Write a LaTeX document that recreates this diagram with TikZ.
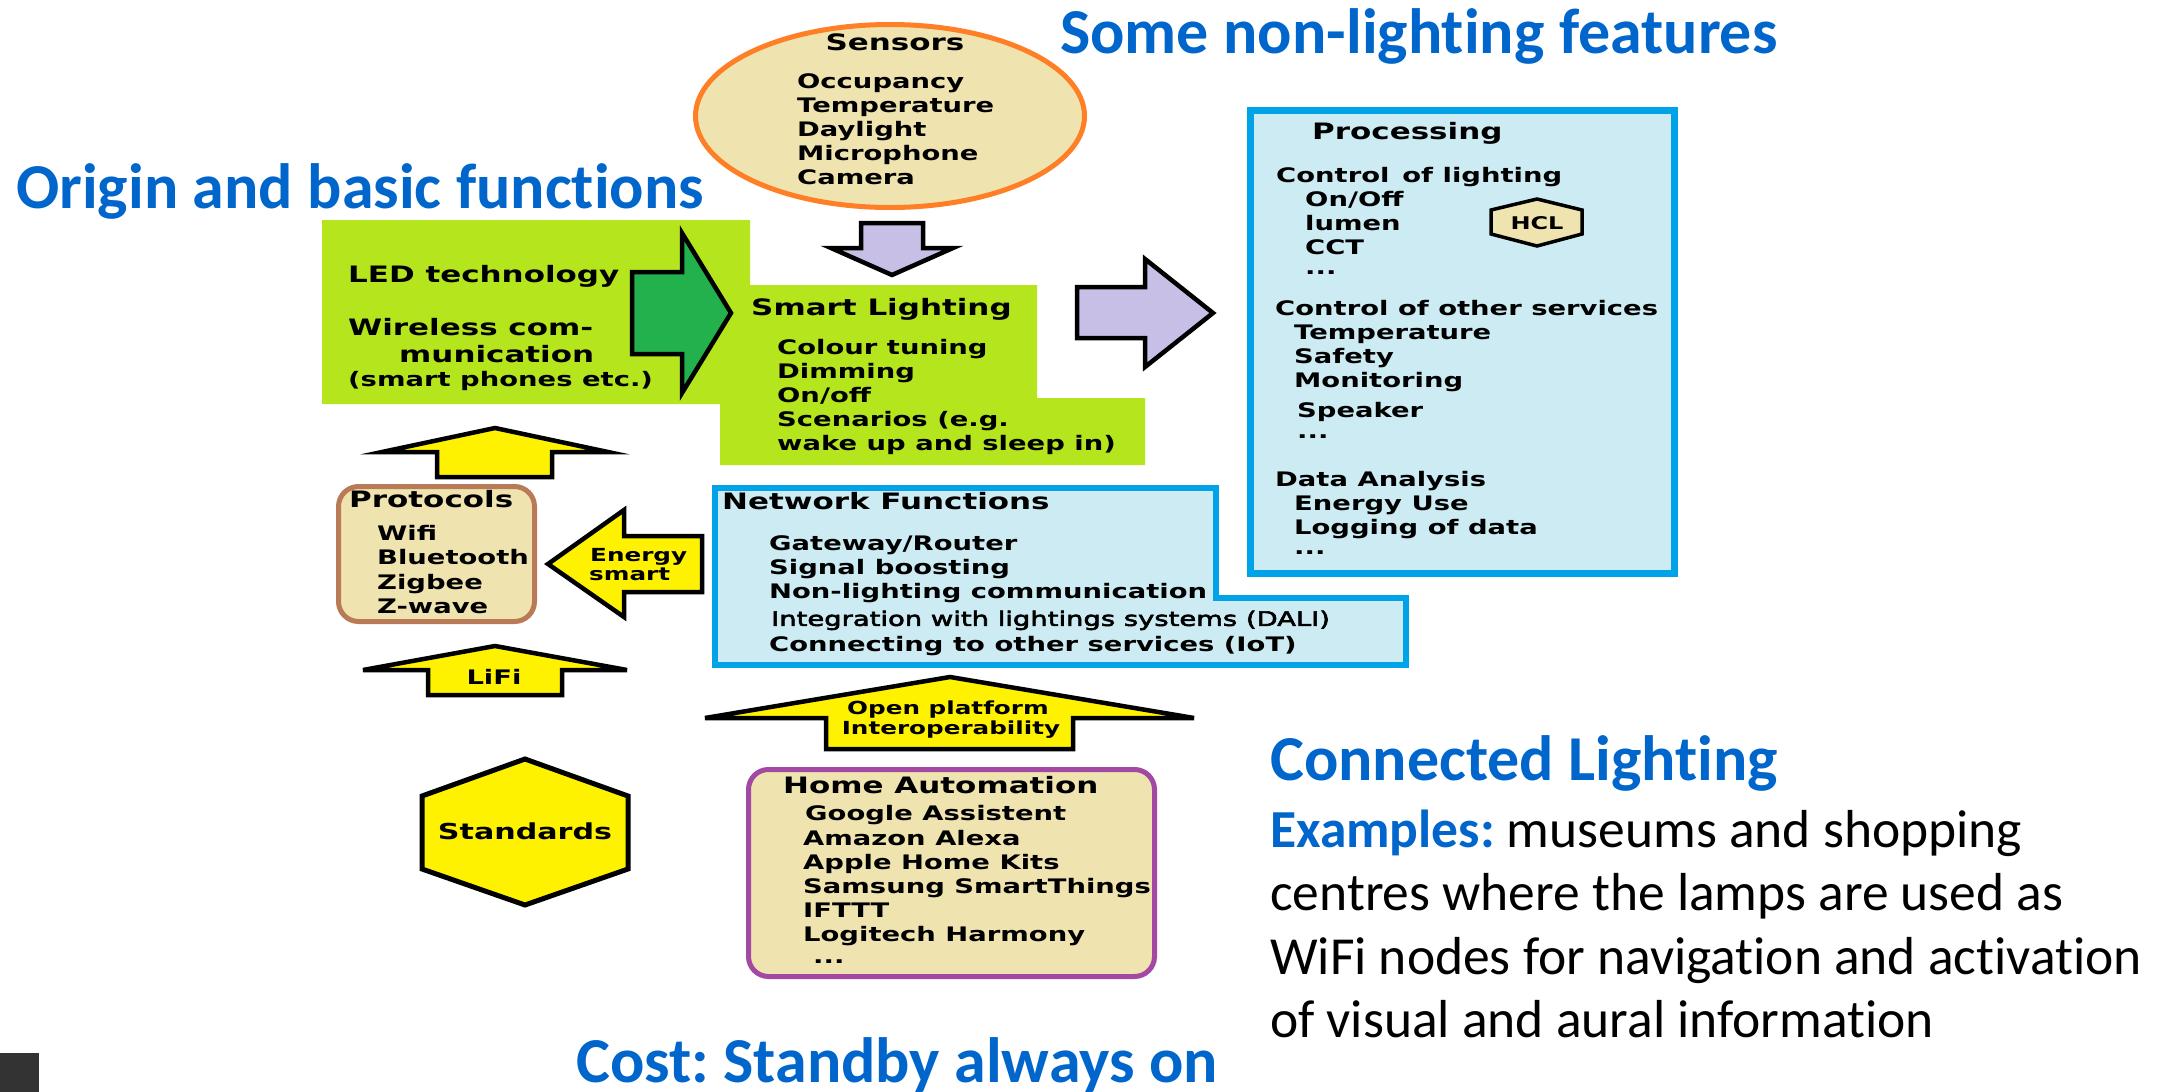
\documentclass[tikz,border=0pt]{standalone}
\usepackage{fontspec}
\setmainfont{Carlito}[Ligatures=NoCommon]
\newfontfamily\ttl{Carlito}[Ligatures=NoCommon]
\newfontfamily\bx{DejaVu Sans}[FakeStretch=1.37]
\newfontfamily\bxr{DejaVu Sans}[FakeStretch=1.37,FakeBold=3]
\usetikzlibrary{shapes.geometric}
\definecolor{lime}{RGB}{181,230,29}
\definecolor{dkgreen}{RGB}{34,177,76}
\definecolor{tan}{RGB}{239,228,176}
\definecolor{orng}{RGB}{255,127,39}
\definecolor{lav}{RGB}{200,191,231}
\definecolor{skyfill}{RGB}{204,235,243}
\definecolor{skyline}{RGB}{0,162,232}
\definecolor{yel}{RGB}{255,242,0}
\definecolor{brwn}{RGB}{185,122,87}
\definecolor{purp}{RGB}{163,73,164}
\definecolor{titleblue}{RGB}{0,102,204}
\frenchspacing
\tikzset{
  body/.style={font=\bx\bfseries\fontsize{20}{24}\selectfont, inner sep=0pt, anchor=mid west, yshift=-4.5pt},
  bodyr/.style={font=\bxr\fontsize{20}{24}\selectfont, inner sep=0pt, anchor=mid west, yshift=-4.5pt},
  head/.style={font=\bx\bfseries\fontsize{22.6}{27}\selectfont, inner sep=0pt, anchor=mid west, yshift=-4.5pt},
  small/.style={font=\bx\bfseries\fontsize{18}{20}\selectfont, inner sep=0pt, yshift=-4pt},
  title/.style={font=\ttl\bfseries\fontsize{64}{76}\selectfont, text=titleblue, inner sep=0pt, anchor=base west},
  para/.style={font=\ttl\fontsize{53.5}{63}\selectfont, inner sep=0pt, anchor=base west},
  outl/.style={draw=black, line width=4.5pt, line join=miter},
}
\begin{document}
\begin{tikzpicture}[x=1pt,y=-1pt]
\useasboundingbox (0,0) rectangle (2164,1092);
\fill[white] (0,0) rectangle (2164,1092);

% green region
\fill[lime] (322,220) -- (750,220) -- (750,285) -- (1037,285) -- (1037,398) -- (1145,398)
  -- (1145,465) -- (720,465) -- (720,404) -- (322,404) -- cycle;

% block arrows
\filldraw[outl, fill=dkgreen] (632,272) -- (682,272) -- (682,233) -- (731,313) -- (682,393) -- (682,354) -- (632,354) -- cycle;
\filldraw[outl, fill=lav] (861,223) -- (923,223) -- (923,248) -- (953,248) -- (892,275) -- (831,248) -- (861,248) -- cycle;
\filldraw[outl, fill=lav] (1077,287) -- (1145,287) -- (1145,259) -- (1213,313) -- (1145,367) -- (1145,338) -- (1077,338) -- cycle;
\filldraw[outl, fill=yel] (437,477) -- (437,452) -- (382,452) -- (495,428) -- (608,452) -- (552,452) -- (552,477) -- cycle;
\filldraw[outl, fill=yel] (428,695) -- (428,670) -- (363,670) -- (495,646) -- (627,670) -- (562,670) -- (562,695) -- cycle;
\filldraw[outl, fill=yel] (826,749) -- (826,718) -- (705,718) -- (950,677) -- (1194,718) -- (1073,718) -- (1073,749) -- cycle;
\filldraw[outl, fill=yel] (702,536) -- (624,536) -- (624,510) -- (548,564) -- (624,617) -- (624,592) -- (702,592) -- cycle;

% sensors ellipse
\node[ellipse, draw=orng, line width=5pt, fill=tan, minimum width=389pt, minimum height=183pt, inner sep=0pt] (sens) at (890,116) {};

% processing box
\filldraw[draw=skyline, fill=skyfill, line width=7pt] (1250.5,110.5) rectangle (1674.5,573.5);
% HCL hexagon
\filldraw[draw=black, fill=tan, line width=3.5pt, line join=miter] (1537,199) -- (1582,210) -- (1582,234) -- (1537,246) -- (1491,234) -- (1491,210) -- cycle;
\node[font=\bx\bfseries\fontsize{17.5}{20}\selectfont, inner sep=0pt, yshift=-1.5pt] (hcl) at (1537,222) {HCL};

% network box
\filldraw[draw=skyline, fill=skyfill, line width=6pt] (715,488) -- (1216,488) -- (1216,598) -- (1406,598) -- (1406,665) -- (715,665) -- cycle;

% protocols and home automation
\filldraw[draw=brwn, fill=tan, line width=5pt, rounded corners=20pt] (338.5,486.5) rectangle (534.5,621.5);
\filldraw[draw=purp, fill=tan, line width=5pt, rounded corners=20pt] (748.5,769.5) rectangle (1154.5,976.5);

% standards hexagon
\filldraw[draw=black, fill=yel, line width=5pt, line join=miter] (525,759) -- (628,796) -- (628,869) -- (525,905) -- (422,869) -- (422,796) -- cycle;

% dark square
\fill[black!80] (0,1053) rectangle (39,1092);

% ---- texts ----
\node[title] (t1) at (16,208) {Origin and basic functions};
\node[title] (t2) at (1060,53) {Some non-lighting features};
\node[title] (t3) at (1270,780) {Connected Lighting};
\node[para] (e1) at (1270,847) {{\bfseries\color{titleblue}Examples:} museums and shopping};
\node[para] (e2) at (1270,910) {centres where the lamps are used as};
\node[para] (e3) at (1270,974) {WiFi nodes for navigation and activation};
\node[para] (e4) at (1270,1037) {of visual and aural information};
\node[title] (t4) at (576,1082) {Cost: Standby always on};

% sensors text
\node[head, anchor=mid] (sh) at (895,44) {Sensors};
\foreach \t [count=\i] in {Occupancy,Temperature,Daylight,Microphone,Camera}
  \node[body] (s\i) at (797,58+24*\i) {\t};

% left green text
\node[head] (led) at (348,276) {LED technology};
\node[head] (wl1) at (348,329) {Wireless com-};
\node[head] (wl2) at (399,356) {munication};
\node[body] (wl3) at (348,380) {(smart phones etc.)};

% smart lighting text
\node[head] (slh) at (751,309) {Smart Lighting};
\foreach \t [count=\i] in {Colour tuning,Dimming,On/off,Scenarios (e.g.,wake up and sleep in)}
  \node[body] (sl\i) at (777,324+24*\i) {\t};

% processing text
\node[head] (ph) at (1312,133) {Processing};
\node[body] (p1) at (1276,176) {Control\,\ of lighting};
\foreach \t [count=\i] in {On/Off,lumen,CCT}
  \node[body] (pa\i) at (1305,176+24*\i) {\t};
\node[body] (pa4) at (1305,268) {...};
\node[body] (p2) at (1275,309) {Control of other services};
\foreach \t [count=\i] in {Temperature,Safety,Monitoring}
  \node[body] (pb\i) at (1294,309+24*\i) {\t};
\node[body] (pb4) at (1297,411) {Speaker};
\node[body] (pb5) at (1297,432) {...};
\node[body] (p3) at (1275,480) {Data Analysis};
\node[body] (pc1) at (1294,504) {Energy Use};
\node[body] (pc2) at (1294,528) {Logging of data};
\node[body] (pc3) at (1294,548) {...};

% network text
\node[head] (nh) at (722,503) {Network Functions};
\foreach \t [count=\i] in {Gateway/Router,Signal boosting,Non-lighting communication}
  \node[body] (n\i) at (769,520+24*\i) {\t};
\node[bodyr] (n4) at (771,619) {Integration with lightings systems (DALI)};
\node[body] (n5) at (769,645) {Connecting to other services (IoT)};

% protocols text
\node[head] (prh) at (349,501) {Protocols};
\node[body] (pr1) at (377,534) {Wifi};
\node[body] (pr2) at (377,558) {Bluetooth};
\node[body] (pr3) at (377,583) {Zigbee};
\node[body] (pr4) at (377,607) {Z-wave};

% arrow labels
\node[small, anchor=mid west] (en1) at (590,555) {Energy};
\node[small, anchor=mid west] (en2) at (589,574) {smart};
\node[body, anchor=mid] (lifi) at (494,678) {LiFi};
\node[small, anchor=mid] (op1) at (948,708) {Open platform};
\node[small, anchor=mid] (op2) at (951,728) {Interoperability};
\node[font=\bx\bfseries\fontsize{22}{26}\selectfont, inner sep=0pt, anchor=mid, yshift=-3pt] (std) at (525,834) {Standards};

% home automation text
\node[head] (hah) at (783,787) {Home Automation};
\node[body] (ha1) at (805,814) {Google Assistent};
\foreach \t [count=\i] in {Amazon Alexa,Apple Home Kits,Samsung SmartThings,IFTTT,Logitech Harmony}
  \node[body] (hb\i) at (803,815+24*\i) {\t};
\node[body] (ha2) at (813,957) {...};
\end{tikzpicture}
\end{document}
